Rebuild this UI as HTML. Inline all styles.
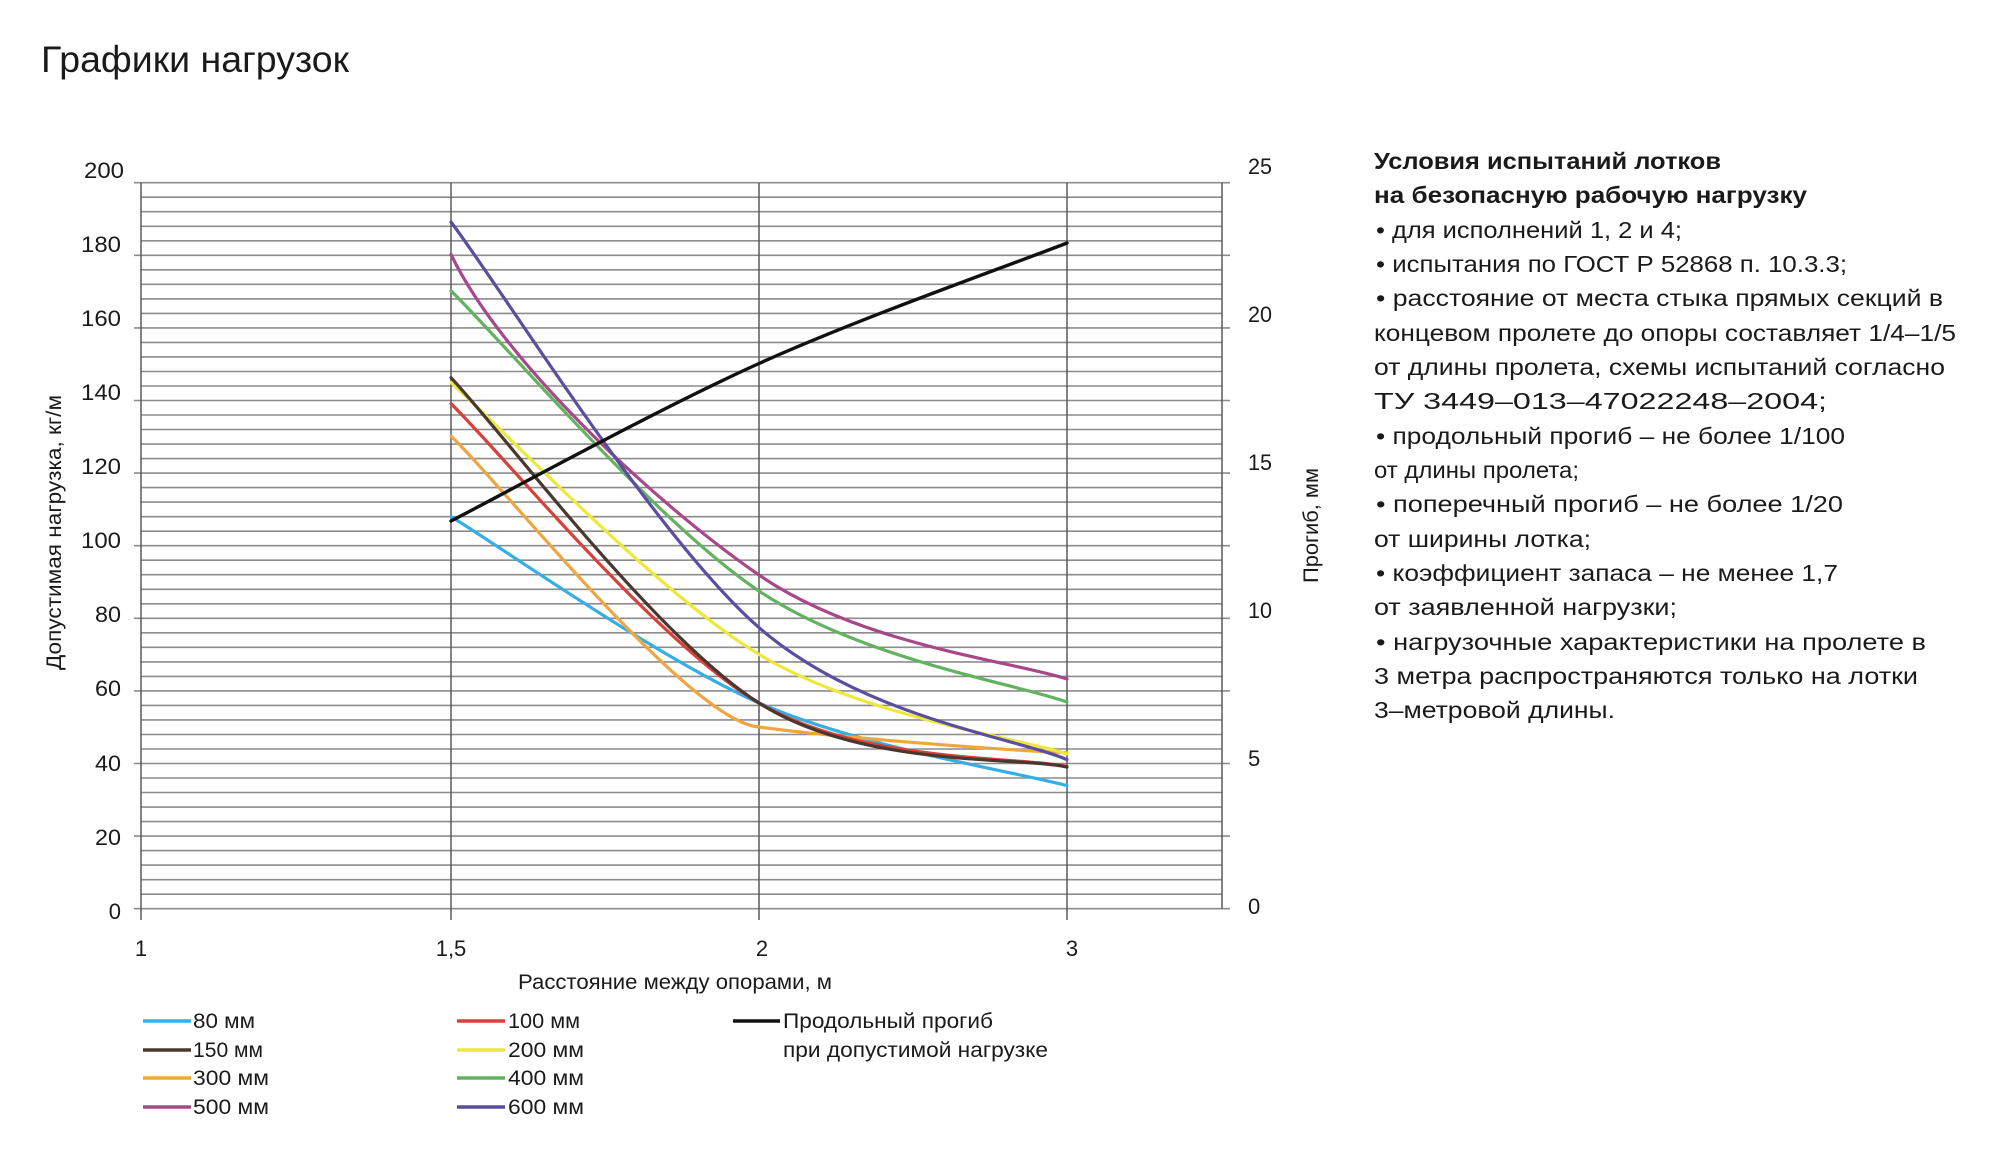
<!DOCTYPE html>
<html><head><meta charset="utf-8"><style>
html,body{margin:0;padding:0;background:#fff;}
svg{display:block;}
text{font-family:"Liberation Sans","DejaVu Sans",sans-serif;fill:#1a1a1a;}
</style></head><body>
<svg width="2000" height="1157" viewBox="0 0 2000 1157" xmlns="http://www.w3.org/2000/svg">
<text x="41" y="72" font-size="37" textLength="308" lengthAdjust="spacingAndGlyphs">Графики нагрузок</text>

<!-- horizontal grid -->
<path stroke="#8c8c8c" stroke-width="1.6" fill="none" d="
M134 182.7H1230 M141 197.2H1222 M141 211.7H1222 M141 226.3H1222 M141 240.8H1222
M134 255.3H1230 M141 269.8H1222 M141 284.3H1222 M141 298.9H1222 M141 313.4H1222
M134 327.9H1230 M141 342.4H1222 M141 356.9H1222 M141 371.5H1222 M141 386.0H1222
M134 400.5H1230 M141 415.0H1222 M141 429.5H1222 M141 444.1H1222 M141 458.6H1222
M134 473.1H1230 M141 487.6H1222 M141 502.1H1222 M141 516.7H1222 M141 531.2H1222
M134 545.7H1230 M141 560.2H1222 M141 574.7H1222 M141 589.3H1222 M141 603.8H1222
M134 618.3H1230 M141 632.8H1222 M141 647.3H1222 M141 661.9H1222 M141 676.4H1222
M134 690.9H1230 M141 705.4H1222 M141 719.9H1222 M141 734.5H1222 M141 749.0H1222
M134 763.5H1230 M141 778.0H1222 M141 792.5H1222 M141 807.1H1222 M141 821.6H1222
M134 836.1H1230 M141 850.6H1222 M141 865.1H1222 M141 879.7H1222 M141 894.2H1222
M134 908.7H1230"/>
<!-- vertical -->
<path stroke="#5a5a5a" stroke-width="1.5" fill="none" d="M141 182.7V920 M451 182.7V920 M759 182.7V920 M1067 182.7V920 M1222 182.7V908.7"/>

<!-- series -->
<g fill="none" stroke-width="3.2" stroke-linecap="round">
<path stroke="#35aee6" d="M451 516.6C502.3 547.7 658.2 658.2 759 703C861.7 747.8 1015.7 771.8 1067 785.6"/>
<path stroke="#f0a640" d="M451 436.2C502.3 484.7 690 722 759 727C830 737 1000 750 1067 752.7"/>
<path stroke="#d8403a" d="M451 403.7C502.3 453.6 656.3 642.5 759 703C861.7 763.5 1015.7 755.9 1067 766.5"/>
<path stroke="#ede83a" d="M451 382.6C502.3 427.9 656.3 592.5 759 654.4C861.7 716.3 1015.7 737.3 1067 753.9"/>
<path stroke="#4a3830" d="M451 377.7C502.3 431.9 656.3 638.1 759 703C861.7 767.9 1015.7 756.3 1067 767"/>
<path stroke="#62b260" d="M451 290.8C502.3 340.8 656.3 522.5 759 591C861.7 659.5 1015.7 683.5 1067 702"/>
<path stroke="#a8478a" d="M451 254.4C502.3 361.2 656.3 504.2 759 575C861.7 645.8 1015.7 661.7 1067 679"/>
<path stroke="#5b4ea0" d="M451 222C502.3 289.6 656.3 538 759 627.6C861.7 717.2 1015.7 737.6 1067 759.6"/>
<path stroke="#111" stroke-width="3.4" d="M451 521C502.3 494.75 656.3 409.8 759 363.5C861.7 317.2 1015.7 263.1 1067 243"/>
</g>

<!-- left tick labels -->
<g font-size="22" text-anchor="end">
<text x="124" y="178" textLength="40" lengthAdjust="spacingAndGlyphs">200</text>
<text x="121" y="252" textLength="40" lengthAdjust="spacingAndGlyphs">180</text>
<text x="121" y="326" textLength="40" lengthAdjust="spacingAndGlyphs">160</text>
<text x="121" y="400" textLength="40" lengthAdjust="spacingAndGlyphs">140</text>
<text x="121" y="474" textLength="40" lengthAdjust="spacingAndGlyphs">120</text>
<text x="121" y="548" textLength="40" lengthAdjust="spacingAndGlyphs">100</text>
<text x="121" y="622" textLength="26" lengthAdjust="spacingAndGlyphs">80</text>
<text x="121" y="696" textLength="26" lengthAdjust="spacingAndGlyphs">60</text>
<text x="121" y="771" textLength="26" lengthAdjust="spacingAndGlyphs">40</text>
<text x="121" y="845" textLength="26" lengthAdjust="spacingAndGlyphs">20</text>
<text x="121" y="919">0</text>
</g>
<!-- right tick labels -->
<g font-size="22">
<text x="1248" y="174" textLength="24" lengthAdjust="spacingAndGlyphs">25</text>
<text x="1248" y="322" textLength="24" lengthAdjust="spacingAndGlyphs">20</text>
<text x="1248" y="470" textLength="24" lengthAdjust="spacingAndGlyphs">15</text>
<text x="1248" y="618" textLength="24" lengthAdjust="spacingAndGlyphs">10</text>
<text x="1248" y="766">5</text>
<text x="1248" y="914">0</text>
</g>
<!-- x tick labels -->
<g font-size="22" text-anchor="middle">
<text x="141" y="956">1</text>
<text x="451" y="956">1,5</text>
<text x="762" y="956">2</text>
<text x="1072" y="956">3</text>
</g>
<text x="518" y="989" font-size="21" textLength="314" lengthAdjust="spacingAndGlyphs">Расстояние между опорами, м</text>
<text transform="translate(61,670) rotate(-90)" font-size="21" textLength="275" lengthAdjust="spacingAndGlyphs">Допустимая нагрузка, кг/м</text>
<text transform="translate(1318,583) rotate(-90)" font-size="21" textLength="115" lengthAdjust="spacingAndGlyphs">Прогиб, мм</text>

<!-- legend -->
<g stroke-width="3.4">
<line x1="143" y1="1021" x2="191" y2="1021" stroke="#35aee6"/>
<line x1="143" y1="1050" x2="191" y2="1050" stroke="#4a3830"/>
<line x1="143" y1="1078" x2="191" y2="1078" stroke="#f0a640"/>
<line x1="143" y1="1107" x2="191" y2="1107" stroke="#a8478a"/>
<line x1="457" y1="1021" x2="505" y2="1021" stroke="#d8403a"/>
<line x1="457" y1="1050" x2="505" y2="1050" stroke="#ede83a"/>
<line x1="457" y1="1078" x2="505" y2="1078" stroke="#62b260"/>
<line x1="457" y1="1107" x2="505" y2="1107" stroke="#5b4ea0"/>
<line x1="733" y1="1021" x2="780" y2="1021" stroke="#111"/>
</g>
<g font-size="21">
<text x="193" y="1028" textLength="62" lengthAdjust="spacingAndGlyphs">80 мм</text>
<text x="193" y="1057" textLength="70" lengthAdjust="spacingAndGlyphs">150 мм</text>
<text x="193" y="1085" textLength="76" lengthAdjust="spacingAndGlyphs">300 мм</text>
<text x="193" y="1114" textLength="76" lengthAdjust="spacingAndGlyphs">500 мм</text>
<text x="508" y="1028" textLength="72" lengthAdjust="spacingAndGlyphs">100 мм</text>
<text x="508" y="1057" textLength="76" lengthAdjust="spacingAndGlyphs">200 мм</text>
<text x="508" y="1085" textLength="76" lengthAdjust="spacingAndGlyphs">400 мм</text>
<text x="508" y="1114" textLength="76" lengthAdjust="spacingAndGlyphs">600 мм</text>
<text x="783" y="1028" textLength="210" lengthAdjust="spacingAndGlyphs">Продольный прогиб</text>
<text x="783" y="1057" textLength="265" lengthAdjust="spacingAndGlyphs">при допустимой нагрузке</text>
</g>

<!-- right text -->
<g font-size="23">
<text x="1374" y="169" font-weight="bold" textLength="347" lengthAdjust="spacingAndGlyphs">Условия испытаний лотков</text>
<text x="1374" y="203" font-weight="bold" textLength="433" lengthAdjust="spacingAndGlyphs">на безопасную рабочую нагрузку</text>
<text x="1376" y="238" textLength="306" lengthAdjust="spacingAndGlyphs">• для исполнений 1, 2 и 4;</text>
<text x="1376" y="272" textLength="471" lengthAdjust="spacingAndGlyphs">• испытания по ГОСТ Р 52868 п. 10.3.3;</text>
<text x="1376" y="306" textLength="567" lengthAdjust="spacingAndGlyphs">• расстояние от места стыка прямых секций в</text>
<text x="1374" y="341" textLength="582" lengthAdjust="spacingAndGlyphs">концевом пролете до опоры составляет 1/4–1/5</text>
<text x="1374" y="375" textLength="571" lengthAdjust="spacingAndGlyphs">от длины пролета, схемы испытаний согласно</text>
<text x="1374" y="409" textLength="453" lengthAdjust="spacingAndGlyphs">ТУ 3449–013–47022248–2004;</text>
<text x="1376" y="444" textLength="469" lengthAdjust="spacingAndGlyphs">• продольный прогиб – не более 1/100</text>
<text x="1374" y="478" textLength="205" lengthAdjust="spacingAndGlyphs">от длины пролета;</text>
<text x="1376" y="512" textLength="467" lengthAdjust="spacingAndGlyphs">• поперечный прогиб – не более 1/20</text>
<text x="1374" y="547" textLength="217" lengthAdjust="spacingAndGlyphs">от ширины лотка;</text>
<text x="1376" y="581" textLength="462" lengthAdjust="spacingAndGlyphs">• коэффициент запаса – не менее 1,7</text>
<text x="1374" y="615" textLength="303" lengthAdjust="spacingAndGlyphs">от заявленной нагрузки;</text>
<text x="1376" y="650" textLength="550" lengthAdjust="spacingAndGlyphs">• нагрузочные характеристики на пролете в</text>
<text x="1374" y="684" textLength="544" lengthAdjust="spacingAndGlyphs">3 метра распространяются только на лотки</text>
<text x="1374" y="718" textLength="241" lengthAdjust="spacingAndGlyphs">3–метровой длины.</text>
</g>
</svg>
</body></html>
